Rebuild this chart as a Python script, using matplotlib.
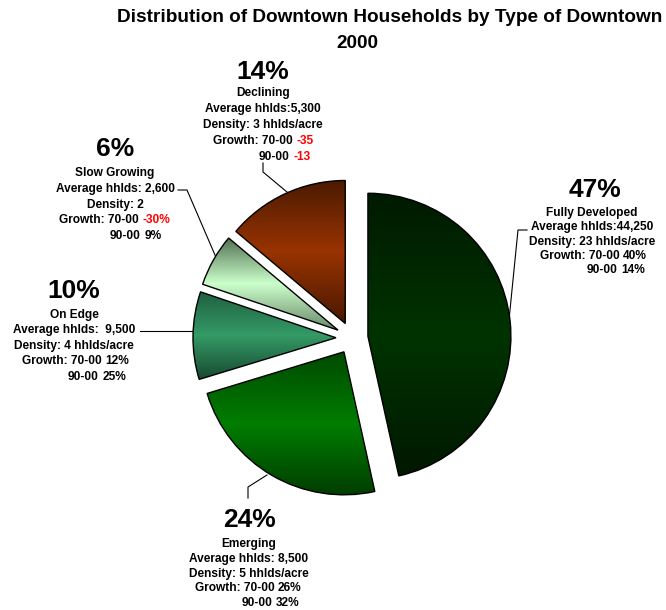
import numpy as np
import matplotlib
matplotlib.use('Agg')
import matplotlib.pyplot as plt
from matplotlib.colors import LinearSegmentedColormap

plt.rcParams['font.family'] = ['Liberation Sans', 'DejaVu Sans']
plt.rcParams['font.weight'] = 'bold'

# data (clockwise from 12 o'clock)
types = ['Fully Developed', 'Emerging', 'On Edge', 'Slow Growing', 'Declining']
shares = [47, 24, 10, 6, 14]
avg_hhlds = ['Average hhlds:44,250', 'Average hhlds: 8,500', 'Average hhlds:  9,500',
             'Average hhlds: 2,600', 'Average hhlds:5,300']
density = ['Density: 23 hhlds/acre', 'Density: 5 hhlds/acre', 'Density: 4 hhlds/acre',
           'Density: 2', 'Density: 3 hhlds/acre']
growth_70_00 = ['40%', '26%', '12%', '-30%', '-35']
growth_90_00 = ['14%', '32%', '25%', '9%', '-13']

# gradient colours bottom -> middle -> top
grad_colors = [('#001800', '#003300', '#001a00'),
               ('#003d00', '#007d00', '#004a00'),
               ('#174a30', '#349a66', '#1f5f3f'),
               ('#6a8a6a', '#ccffcc', '#4f6f4f'),
               ('#4a1800', '#993300', '#4a1a00')]

W, H = 666, 610
fig = plt.figure(figsize=(W / 100, H / 100), dpi=100)
ax = fig.add_axes([0, 0, 1, 1])

cx, cy, r = 352, H - 338, 143
wedges, _ = ax.pie(shares, startangle=90, counterclock=False, center=(cx, cy), radius=r,
                   explode=[16] * len(shares), frame=True,
                   wedgeprops=dict(fc='none', ec='black', lw=1))

# vertical gradient fill, clipped to each wedge
grad = np.linspace(0, 1, 256).reshape(-1, 1)
for w, cols in zip(wedges, grad_colors):
    ext = w.get_path().get_extents(w.get_patch_transform())
    cmap = LinearSegmentedColormap.from_list('g', cols)
    im = ax.imshow(grad, cmap=cmap, origin='lower', aspect='auto', zorder=1,
                   extent=[ext.x0, ext.x1, ext.y0, ext.y1], interpolation='bilinear')
    im.set_clip_path(w)
    w.set_zorder(2)

ax.set_xlim(0, W)
ax.set_ylim(0, H)
ax.axis('off')

# title
ax.text(390, H - 17, 'Distribution of Downtown Households by Type of Downtown',
        ha='center', va='center', fontsize=13.7)
ax.text(357, H - 43, '2000', ha='center', va='center', fontsize=13.7)

# label layout: pct (x, y), line centre x, first line y, spacing, growth left x, 90-00 left x
layout = [((595, 190), 592, 213, 14.3, 540, 587),
          ((249, 520), 249, 544, 14.8, 195, 242),
          ((74, 291), 74, 315, 15.5, 22, 68),
          ((115, 149), 115, 173, 15.8, 59, 110),
          ((263, 72), 263, 93, 16.0, 213, 259)]

fs = 8.6
for i, (pxy, lx, y0, dy, gx, nx) in enumerate(layout):
    ax.text(pxy[0], H - pxy[1], f'{shares[i]}%', ha='center', va='center', fontsize=19)
    for k, s in enumerate([types[i], avg_hhlds[i], density[i]]):
        ax.text(lx, H - (y0 + k * dy), s, ha='center', va='center', fontsize=fs)
    for k, (head, val, x0) in enumerate([('Growth: 70-00', growth_70_00[i], gx),
                                         ('90-00', growth_90_00[i], nx)]):
        t = ax.text(x0, H - (y0 + (3 + k) * dy), head, ha='left', va='center', fontsize=fs)
        col = 'red' if val.startswith('-') else 'black'
        ax.annotate(val, xy=(1, 0), xycoords=t, xytext=(2.4, 0), textcoords='offset points',
                    ha='left', va='bottom', fontsize=fs, color=col)

# leader lines
leaders = [([527, 518, 508], [230, 230, 330]),
           ([248, 248, 267], [498, 487, 475]),
           ([140, 193], [331, 331]),
           ([178, 187, 218], [190, 190, 262]),
           ([263, 263, 287], [163, 172, 192])]
for xs, ys in leaders:
    ax.plot(xs, [H - y for y in ys], color='black', lw=0.8, zorder=0)

fig.savefig('out.png', dpi=100)
